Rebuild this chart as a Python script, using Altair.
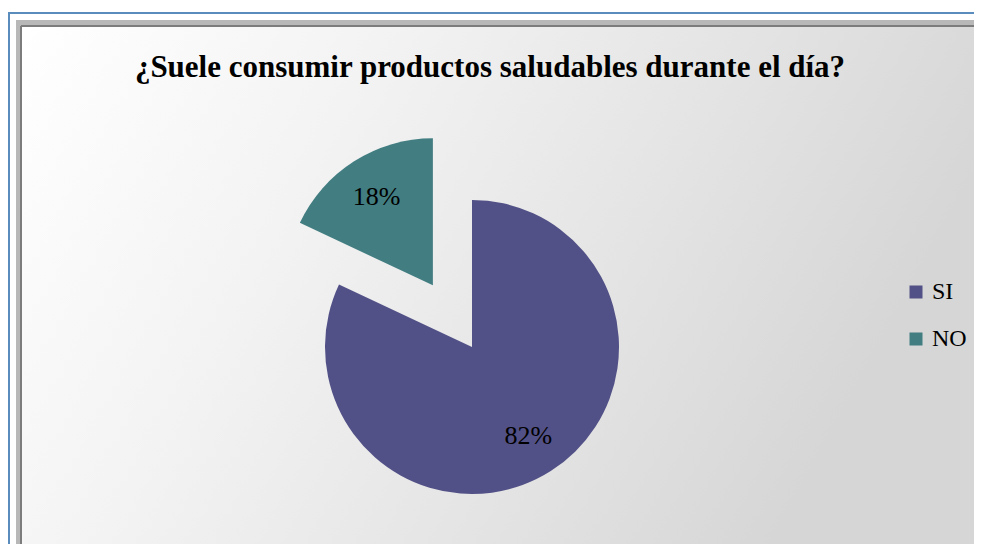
import altair as alt
import pandas as pd

categories = ["SI", "NO"]
values = [82, 18]
explode = [0, 73]
order = [0, 1]
colors = ["#525187", "#417D81"]
title_text = "¿Suele consumir productos saludables durante el día?"

W, H = 966, 536
CX, CY, R = 464, 339, 147
LR = 105
SERIF = "'Liberation Serif', 'Times New Roman', Times, 'DejaVu Serif', serif"

df = pd.DataFrame({"category": categories, "value": values, "explode": explode, "order": order})

one = alt.Data(values=[{}])

outer = alt.Chart(one).mark_rect(fill="white").encode(
    x=alt.value(0), x2=alt.value(W), y=alt.value(4), y2=alt.value(H)
)
blue_left = alt.Chart(one).mark_rule(color="#5A8DBE", strokeWidth=2).encode(
    x=alt.value(1), y=alt.value(4), y2=alt.value(H)
)
blue_top = alt.Chart(one).mark_rule(color="#5A8DBE", strokeWidth=2).encode(
    x=alt.value(0), x2=alt.value(W), y=alt.value(5)
)
band = alt.Chart(one).mark_rect(fill="#b8b8b8").encode(
    x=alt.value(8), x2=alt.value(W), y=alt.value(12), y2=alt.value(537)
)
dark_left = alt.Chart(one).mark_rule(color="#7c7c7c", strokeWidth=2).encode(
    x=alt.value(13), y=alt.value(18), y2=alt.value(536)
)
dark_top = alt.Chart(one).mark_rule(color="#7c7c7c", strokeWidth=2).encode(
    x=alt.value(13), x2=alt.value(W), y=alt.value(18)
)
grad = alt.LinearGradient(
    gradient="linear",
    stops=[alt.GradientStop(color="#ffffff", offset=0),
           alt.GradientStop(color="#f3f3f3", offset=0.35),
           alt.GradientStop(color="#e4e4e4", offset=0.7),
           alt.GradientStop(color="#d6d6d6", offset=1)],
    x1=0, y1=0, x2=1, y2=0.3,
)
inner = alt.Chart(one).mark_rect(fill=grad).encode(
    x=alt.value(14), x2=alt.value(W), y=alt.value(19), y2=alt.value(536)
)
bottom_hl = alt.Chart(one).mark_rule(color="#ffffff", strokeWidth=3).encode(
    x=alt.value(8), x2=alt.value(W), y=alt.value(538)
)

title = alt.Chart(one).mark_text(
    text=title_text, font=SERIF, fontSize=31, fontWeight="bold",
    color="black", align="center", baseline="middle"
).encode(x=alt.value(482), y=alt.value(60))

base = alt.Chart(df).transform_joinaggregate(
    total="sum(value)"
).transform_window(
    cum="sum(value)", sort=[alt.SortField("order", order="ascending")], frame=[None, 0]
).transform_calculate(
    start="2*PI*(datum.cum - datum.value)/datum.total",
    end="2*PI*datum.cum/datum.total",
).transform_calculate(
    mid="(datum.start + datum.end)/2"
).transform_calculate(
    cx=f"{CX} + datum.explode*sin(datum.mid)",
    cy=f"{CY} - datum.explode*cos(datum.mid)",
).transform_calculate(
    lx=f"datum.cx + {LR}*sin(datum.mid)",
    ly=f"datum.cy - {LR}*cos(datum.mid)",
    label="format(datum.value/datum.total, '.0%')",
)

pie = base.mark_arc(radius=R).encode(
    x=alt.X("cx:Q", scale=None),
    y=alt.Y("cy:Q", scale=None),
    theta=alt.Theta("start:Q", scale=None),
    theta2="end:Q",
    color=alt.Color(
        "category:N",
        scale=alt.Scale(domain=categories, range=colors),
        legend=alt.Legend(
            orient="none", legendX=896, legendY=272, title=None,
            symbolType="square", symbolSize=169, symbolStrokeWidth=0,
            labelFont=SERIF, labelFontSize=24, labelColor="black",
            rowPadding=23, labelOffset=4,
        ),
    ),
)

labels = base.mark_text(
    font=SERIF, fontSize=26, color="black", align="center", baseline="middle"
).encode(
    x=alt.X("lx:Q", scale=None),
    y=alt.Y("ly:Q", scale=None),
    text="label:N",
)

chart = alt.layer(
    outer, band, dark_left, dark_top, inner, bottom_hl, blue_left, blue_top, title, pie, labels
).properties(
    width=W, height=H, autosize=alt.AutoSizeParams(type="none"), padding=0
).configure_view(stroke=None)

chart.save("out.html", embed_options={"renderer": "svg", "actions": False})
